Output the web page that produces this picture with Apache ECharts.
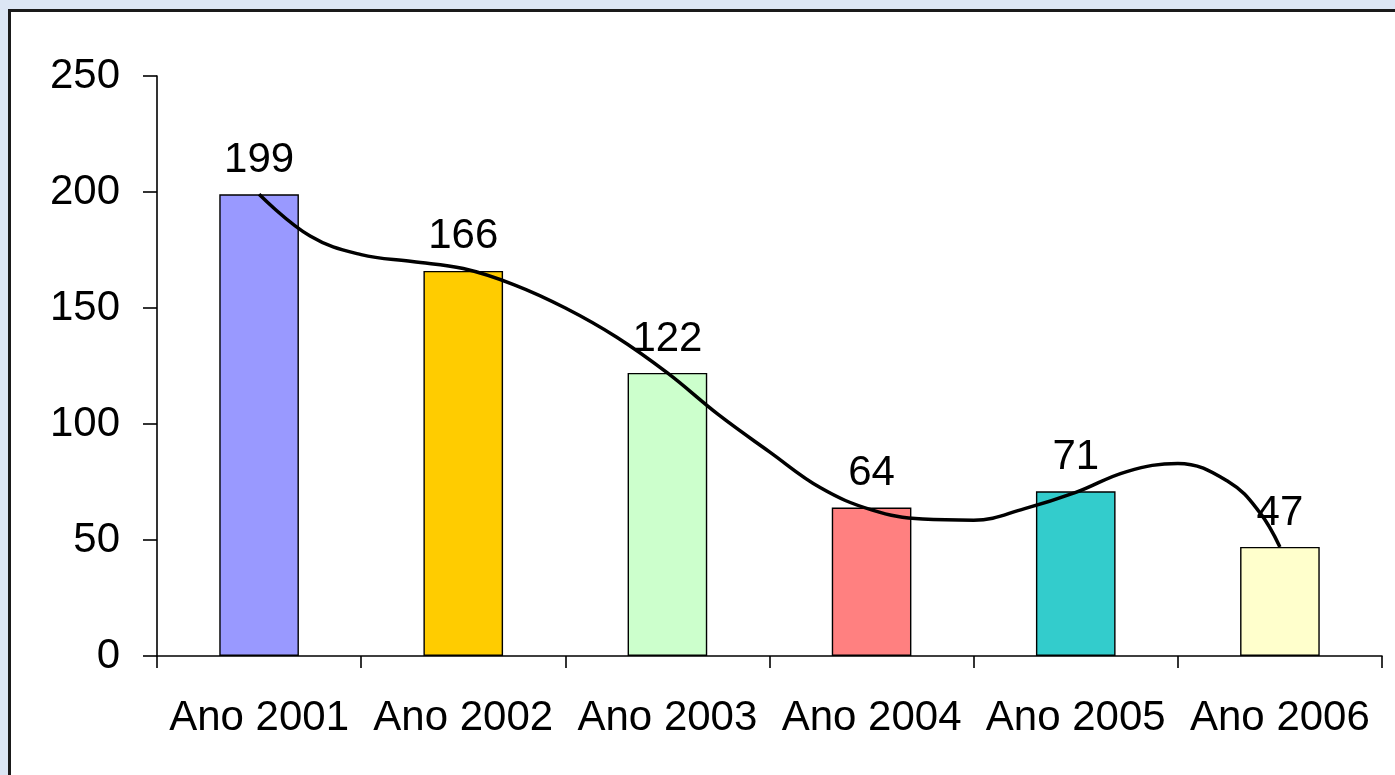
<!DOCTYPE html>
<html>
<head>
<meta charset="utf-8">
<script src="https://cdn.jsdelivr.net/npm/echarts@6/dist/echarts.min.js"></script>
<style>
html,body{margin:0;padding:0;background:#dce6f4;}
#c{width:1395px;height:775px;}
</style>
</head>
<body>
<div id="c"></div>
<script>
var categories = ['Ano 2001', 'Ano 2002', 'Ano 2003', 'Ano 2004', 'Ano 2005', 'Ano 2006'];
var values = [199, 166, 122, 64, 71, 47];
var barColors = ['#9999FF', '#FFCC00', '#CCFFCC', '#FF8080', '#33CCCC', '#FFFFCC'];
// trend curve: position (category index) and value
var trendX = [0, 0.25, 0.5, 0.75, 1, 1.25, 1.5, 1.75, 2, 2.25, 2.5, 2.75, 3, 3.25, 3.5, 3.75, 4, 4.25, 4.5, 4.75, 4.9, 5];
var trendY = [199, 181, 173, 170, 167, 160, 150, 137.5, 122, 104, 88, 72.5, 63, 59, 58.5, 63.5, 70.5, 79.5, 83, 75, 62, 47];

var chart = echarts.init(document.getElementById('c'), null, {renderer: 'canvas'});
var font = '"Liberation Sans", Arial, sans-serif';
var barData = values.map(function (v, i) {
  return {value: v, itemStyle: {color: barColors[i]}};
});
var trendData = trendX.map(function (x, i) { return [x, trendY[i]]; });

chart.setOption({
  backgroundColor: '#dce6f4',
  animation: false,
  graphic: [{
    type: 'rect',
    z: -10,
    shape: {x: 9.5, y: 10.5, width: 1400, height: 800},
    style: {fill: '#ffffff', stroke: '#1a1a1a', lineWidth: 3}
  }],
  grid: {left: 157, right: 13, top: 76, bottom: 119, containLabel: false},
  xAxis: [{
    type: 'category',
    data: categories,
    axisLine: {lineStyle: {color: '#000', width: 1.6}},
    axisTick: {show: true, length: 12, lineStyle: {color: '#000', width: 1.6}},
    axisLabel: {color: '#000', fontSize: 42, fontFamily: font, margin: 41, interval: 0}
  }, {
    type: 'value',
    min: -0.5,
    max: 5.5,
    show: false
  }],
  yAxis: {
    type: 'value',
    min: 0,
    max: 250,
    interval: 50,
    axisLine: {show: true, onZero: false, lineStyle: {color: '#000', width: 1.6}},
    axisTick: {show: true, length: 14, lineStyle: {color: '#000', width: 1.6}},
    splitLine: {show: false},
    axisLabel: {color: '#000', fontSize: 42, fontFamily: font, margin: 37}
  },
  series: [{
    type: 'bar',
    data: barData,
    barWidth: '39%',
    itemStyle: {borderColor: '#000', borderWidth: 1.4},
    label: {show: true, position: 'top', distance: 13, color: '#000', fontSize: 42, fontFamily: font}
  }, {
    type: 'line',
    xAxisIndex: 1,
    data: trendData,
    smooth: 0.4,
    symbol: 'none',
    lineStyle: {color: '#000', width: 3.5},
    z: 5
  }]
});
</script>
</body>
</html>
